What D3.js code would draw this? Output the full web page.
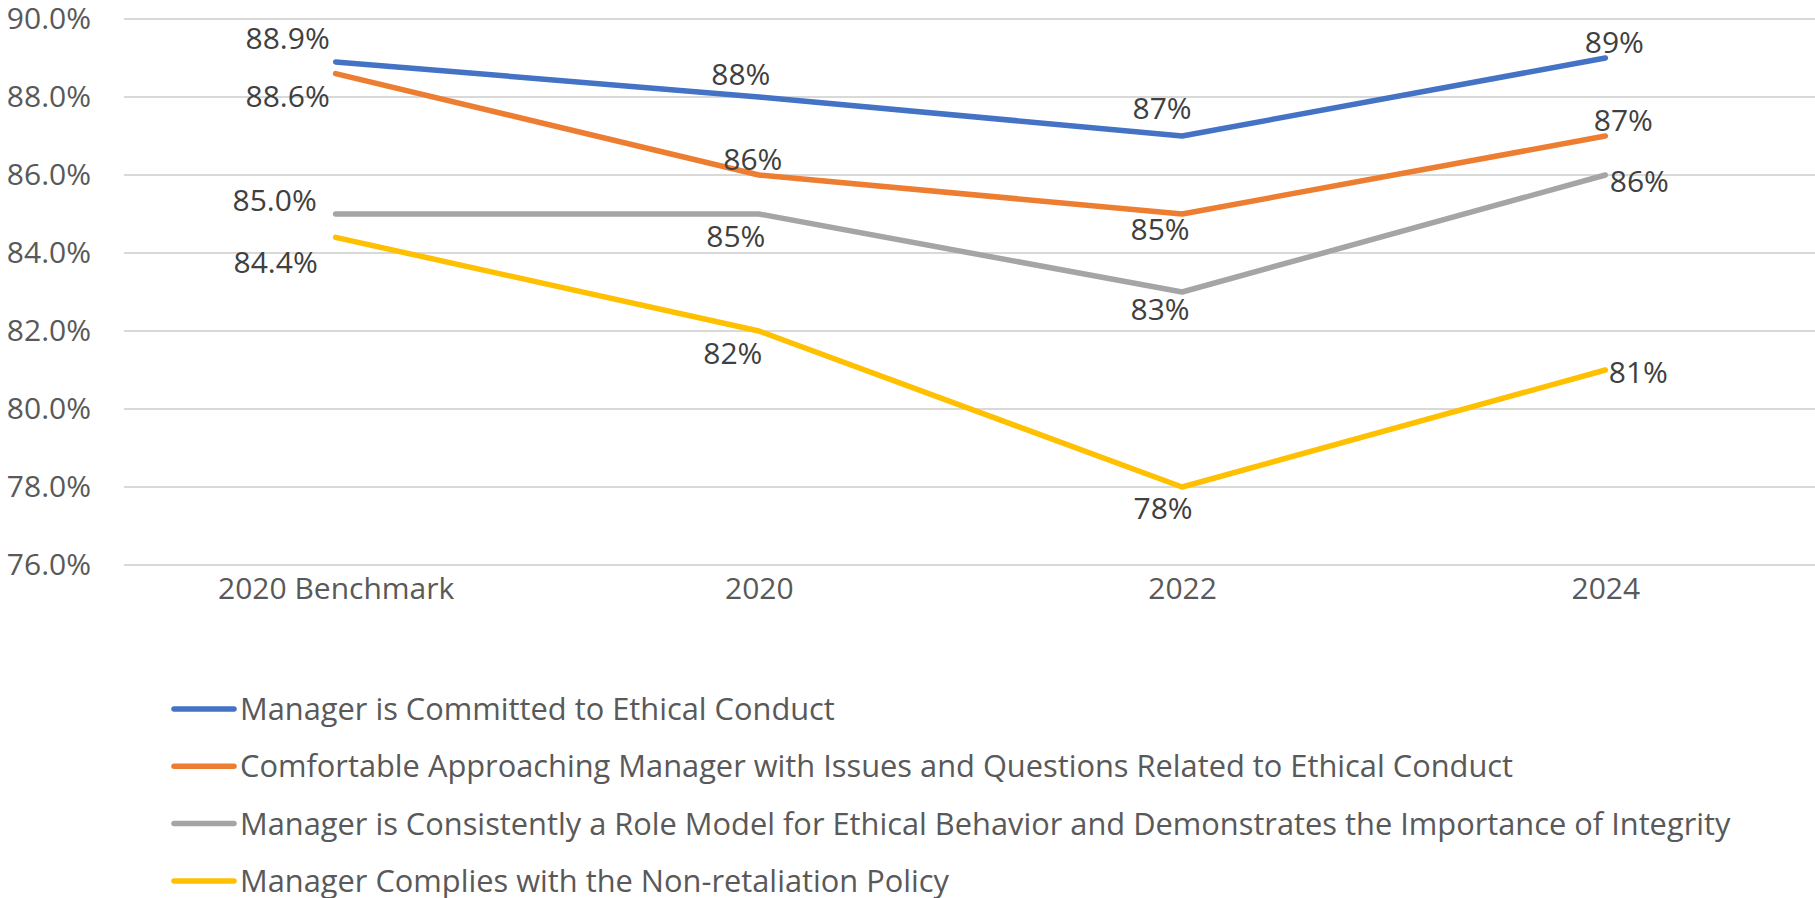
<!DOCTYPE html>
<html>
<head>
<meta charset="utf-8">
<script src="https://cdn.jsdelivr.net/npm/d3@7"></script>
<style>
  body { margin: 0; background: #fff; }
  text { font-family: "Open Sans", sans-serif; }
</style>
</head>
<body>
<div class="center"></div>
<script>
// chart data
var categories = ["2020 Benchmark", "2020", "2022", "2024"];
var seriesNames = [
  "Manager is Committed to Ethical Conduct",
  "Comfortable Approaching Manager with Issues and Questions Related to Ethical Conduct",
  "Manager is Consistently a Role Model for Ethical Behavior and Demonstrates the Importance of Integrity",
  "Manager Complies with the Non-retaliation Policy"
];
var committed   = [88.9, 88, 87, 89];
var comfortable = [88.6, 86, 85, 87];
var roleModel   = [85.0, 85, 83, 86];
var complies    = [84.4, 82, 78, 81];
var yTicks = [76, 78, 80, 82, 84, 86, 88, 90];

var series = [committed, comfortable, roleModel, complies];
var colors = ["#4472C4", "#ED7D31", "#A5A5A5", "#FFC000"];

// where each data label sits relative to its point [dx, dy to baseline]
var labelPlace = [
  [[-48, -13], [-18, -12], [-20, -17], [9, -5]],
  [[-48, 33], [-6, -5], [-22, 26], [18, -5]],
  [[-61, -3], [-23, 33], [-22, 28], [34, 17]],
  [[-60, 36], [-26, 33], [-19, 32], [33, 13]]
];

var margin = {top: 19, right: 0, bottom: 333, left: 124},
    width = 1817 - margin.left,
    height = 565 - margin.top;

var x = d3.scalePoint().domain(categories).range([0, width]).padding(0.5);
var y = d3.scaleLinear().domain([76, 90]).range([height, 0]);

var svg = d3.select(".center").append("svg")
    .attr("width", 1815)
    .attr("height", 898)
    .append("g")
    .attr("transform", "translate(" + margin.left + "," + margin.top + ")");

// gridlines
svg.append("g")
    .selectAll("line")
    .data(yTicks)
    .enter().append("line")
    .attr("x1", 0)
    .attr("x2", width)
    .attr("y1", function(d) { return y(d); })
    .attr("y2", function(d) { return y(d); })
    .style("stroke", "#d9d9d9")
    .style("stroke-width", 1.8);

// y axis labels
var yAxis = svg.append("g")
    .attr("transform", "translate(-33,0)")
    .call(d3.axisLeft(y).tickValues(yTicks).tickSize(0).tickFormat(function(d) { return d3.format(".1f")(d) + "%"; }));
yAxis.select(".domain").remove();
yAxis.selectAll("text")
    .attr("x", 0)
    .style("font-family", "Open Sans")
    .style("font-size", "30px")
    .style("fill", "#595959");

// x axis labels
var xAxis = svg.append("g")
    .attr("transform", "translate(0," + height + ")")
    .call(d3.axisBottom(x).tickSize(0));
xAxis.select(".domain").remove();
xAxis.selectAll("text")
    .attr("y", 34)
    .attr("dy", "0")
    .style("font-family", "Open Sans")
    .style("font-size", "30px")
    .style("fill", "#595959");

var line = d3.line()
    .x(function(d, i) { return x(categories[i]); })
    .y(function(d) { return y(d); });

series.forEach(function(s, k) {
  svg.append("path")
      .datum(s)
      .attr("d", line)
      .style("fill", "none")
      .style("stroke", colors[k])
      .style("stroke-width", 5.5)
      .style("stroke-linecap", "round")
      .style("stroke-linejoin", "round");
});

series.forEach(function(s, k) {
  svg.append("g")
    .selectAll("text")
    .data(s)
    .enter().append("text")
    .attr("x", function(d, i) { return x(categories[i]) + labelPlace[k][i][0]; })
    .attr("y", function(d, i) { return y(d) + labelPlace[k][i][1]; })
    .attr("text-anchor", "middle")
    .style("font-size", "30px")
    .style("fill", "#404040")
    .text(function(d, i) { return (i === 0 ? d3.format(".1f")(d) : d3.format(".0f")(d)) + "%"; });
});

// legend
var legend = d3.select("svg").append("g")
    .attr("class", "legend")
    .attr("transform", "translate(174,709)");

seriesNames.forEach(function(name, k) {
  legend.append("line")
      .attr("x1", 0)
      .attr("x2", 60)
      .attr("y1", k * 57.3)
      .attr("y2", k * 57.3)
      .style("stroke", colors[k])
      .style("stroke-width", 5.5)
      .style("stroke-linecap", "round");

  legend.append("text")
      .attr("x", 66)
      .attr("y", k * 57.3 + 11)
      .style("font-size", "30.8px")
      .style("fill", "#595959")
      .text(name);
});
</script>
</body>
</html>
